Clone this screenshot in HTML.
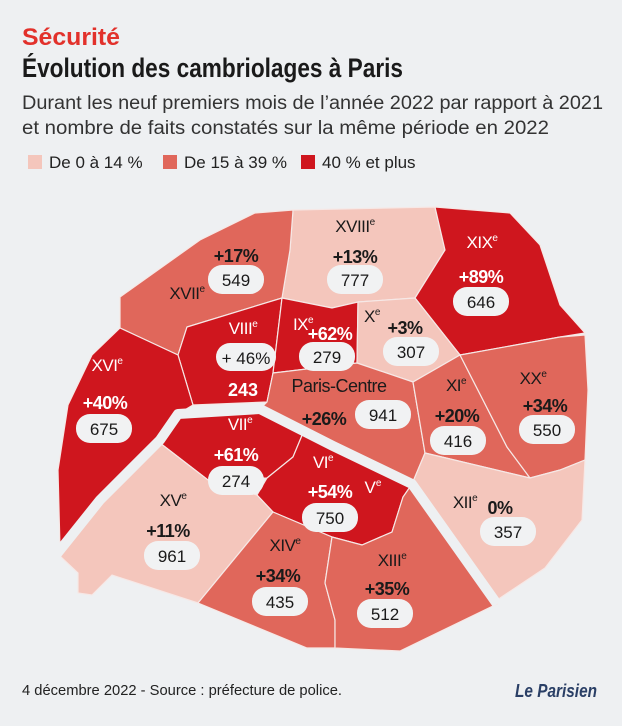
<!DOCTYPE html>
<html><head><meta charset="utf-8"><style>
html,body{margin:0;padding:0;background:#eef0f2;}
svg{display:block;}
text{font-family:"Liberation Sans",sans-serif;}
</style></head><body>
<svg id="map" width="622" height="726" viewBox="0 0 622 726">
<rect width="622" height="726" fill="#eef0f2"/>
<text x="22" y="45" font-size="24" font-weight="bold" fill="#e2312b" textLength="98" lengthAdjust="spacingAndGlyphs">Sécurité</text>
<text x="22" y="77" font-size="27" font-weight="bold" fill="#1a1a1a" textLength="381" lengthAdjust="spacingAndGlyphs">Évolution des cambriolages à Paris</text>
<text x="22" y="109" font-size="19" fill="#333" textLength="581" lengthAdjust="spacingAndGlyphs">Durant les neuf premiers mois de l’année 2022 par rapport à 2021</text>
<text x="22" y="134" font-size="19" fill="#333" textLength="527" lengthAdjust="spacingAndGlyphs">et nombre de faits constatés sur la même période en 2022</text>
<g id="legend"></g>
<g id="regions"></g>
<polyline points="52,560 100,500 160,440 178,414 260,409 333,446 412,484 497,604" fill="none" stroke="#eef0f2" stroke-width="10" stroke-linejoin="round"/>
<g id="labels"></g>
<text x="22" y="695" font-size="15" fill="#222" textLength="320" lengthAdjust="spacingAndGlyphs">4 décembre 2022 - Source : préfecture de police.</text>
<text x="515" y="697" font-size="18" font-weight="bold" fill="#2a3f66" font-style="italic" textLength="82" lengthAdjust="spacingAndGlyphs">Le Parisien</text>
</svg>
<script>
const names=["XVIII","XVII","XIX","VIII","IX","X","XVI","Paris-Centre","XI","XX","VII","VI","XV","XII","XIV","XIII"];
const pctLabels=["+13%","+17%","+89%","+ 46%","+62%","+3%","+40%","+26%","+20%","+34%","+61%","+54%","+11%","0%","+34%","+35%"];
const pctValues=[13,17,89,46,62,3,40,26,20,34,61,54,11,0,34,35];
const counts=[777,549,646,243,279,307,675,941,416,550,274,750,961,357,435,512];
const legendLabels=["De 0 à 14 %","De 15 à 39 %","40 % et plus"];
const colors=["#f4c6bc","#e0675b","#cf161e"];
function cat(v){return v<15?0:(v<40?1:2);}
const shapes=[
"293,210 435,207 445,250 415,298 358,302 332,308 282,298 290,250",
"120,297 200,240 255,213 293,210 290,250 282,298 187,327 178,355 120,328",
"435,207 510,213 540,245 560,305 585,333 560,337 460,355 415,298 445,250",
"187,327 282,298 273,373 267,402 193,405 178,355",
"282,298 332,308 358,302 357,363 273,373",
"358,302 415,298 460,355 413,382 357,363",
"120,328 178,355 193,405 178,414 100,500 60,548 58,470 68,405 92,355",
"273,373 357,363 413,382 425,453 412,484 333,446 260,409 267,402",
"413,382 460,355 507,447 530,478 425,453",
"460,355 560,337 585,335 588,390 585,460 560,470 530,478 507,447",
"160,443 178,414 260,409 303,433 293,457 267,478 208,480",
"303,433 333,446 412,484 403,497 392,532 362,545 332,537 273,512 257,495 267,478 293,457",
"160,443 208,480 257,495 273,512 198,603 112,575 92,595 78,593 78,573 60,556 100,500",
"425,453 530,478 560,470 585,460 582,520 545,568 500,598 497,604 412,484",
"273,512 332,537 325,583 335,620 335,648 307,648 198,603",
"332,537 362,545 392,532 403,497 412,484 497,604 400,651 335,648 335,620 325,583"];
// [nameX,nameY,pctX,pctY,boxX,boxY]
const pos=[[355,232,355,257,355,280],[236,0,236,256,236,280],[482,248,481,277,481,302],[243,334,246,360,243,390],[303,330,330,334,327,357],[372,322,405,328,411,352],[107,371,105,403,104,429],[339,392,324,419,383,415],[456,391,457,416,458,441],[533,384,545,406,547,430],[240,430,236,455,236,481],[323,468,330,492,330,518],[173,506,168,531,172,556],[465,508,500,508,508,532],[285,551,278,576,280,602],[392,566,387,589,385,614]];
const NS="http://www.w3.org/2000/svg";
const reg=document.getElementById('regions'),lab=document.getElementById('labels'),leg=document.getElementById('legend');
function mk(tag,attrs,parent){const e=document.createElementNS(NS,tag);for(const k in attrs)e.setAttribute(k,attrs[k]);parent.appendChild(e);return e;}
const lx=[28,163,301];
legendLabels.forEach((t,i)=>{
 const g=mk('g',{},leg);
 
 
 mk('rect',{x:lx[i],y:155,width:14,height:14,fill:colors[i]},g);
 const tx=mk('text',{x:lx[i]+21,y:168,'font-size':17,fill:'#222'},g);tx.textContent=t;
});
names.forEach((n,i)=>{
 const c=cat(pctValues[i]);
 const p=mk('polygon',{points:shapes[i],fill:colors[c],stroke:'#f6e8e6','stroke-width':1.2},reg);
 
 
 const dark=c===2, fg=dark?'#fff':'#1a1a1a', P=pos[i];
 const g=mk('g',{},lab);
 
 
 let nx=P[0],ny=P[1];
 if(n==="XVII"){nx=187;ny=299;}
 const nt=mk('text',{x:nx,y:ny,'font-size':n==="Paris-Centre"?18:17,fill:fg,'text-anchor':'middle','letter-spacing':'-0.5'},g);
 nt.textContent=n;
 if(n!=="Paris-Centre"){const s=mk('tspan',{'font-size':10,dy:-7},nt);s.textContent='e';}
 if(n==="VIII"){
  mk('rect',{x:P[2]-30,y:P[3]-17,width:60,height:28,rx:14,fill:'#f1f2f3'},g);
  const t=mk('text',{x:P[2],y:P[3]+4,'font-size':17,fill:'#1a1a1a','text-anchor':'middle'},g);t.textContent=pctLabels[i];
  const t2=mk('text',{x:P[4],y:P[5]+6,'font-size':18,'font-weight':'bold',fill:'#fff','text-anchor':'middle'},g);t2.textContent=counts[i];
 } else {
  const t=mk('text',{x:P[2],y:P[3]+6,'font-size':18,'font-weight':'bold',fill:fg,'text-anchor':'middle','letter-spacing':'-0.5'},g);t.textContent=pctLabels[i];
  mk('rect',{x:P[4]-28,y:P[5]-15,width:56,height:29,rx:14,fill:'#f1f2f3'},g);
  const t2=mk('text',{x:P[4],y:P[5]+6,'font-size':17,fill:'#1a1a1a','text-anchor':'middle'},g);t2.textContent=counts[i];
 }
 if(n==="VI"){const v=mk('text',{x:373,y:493,'font-size':17,fill:'#fff','text-anchor':'middle'},g);v.textContent='V';const s=mk('tspan',{'font-size':10,dy:-7},v);s.textContent='e';}
});
</script>
</body></html>
